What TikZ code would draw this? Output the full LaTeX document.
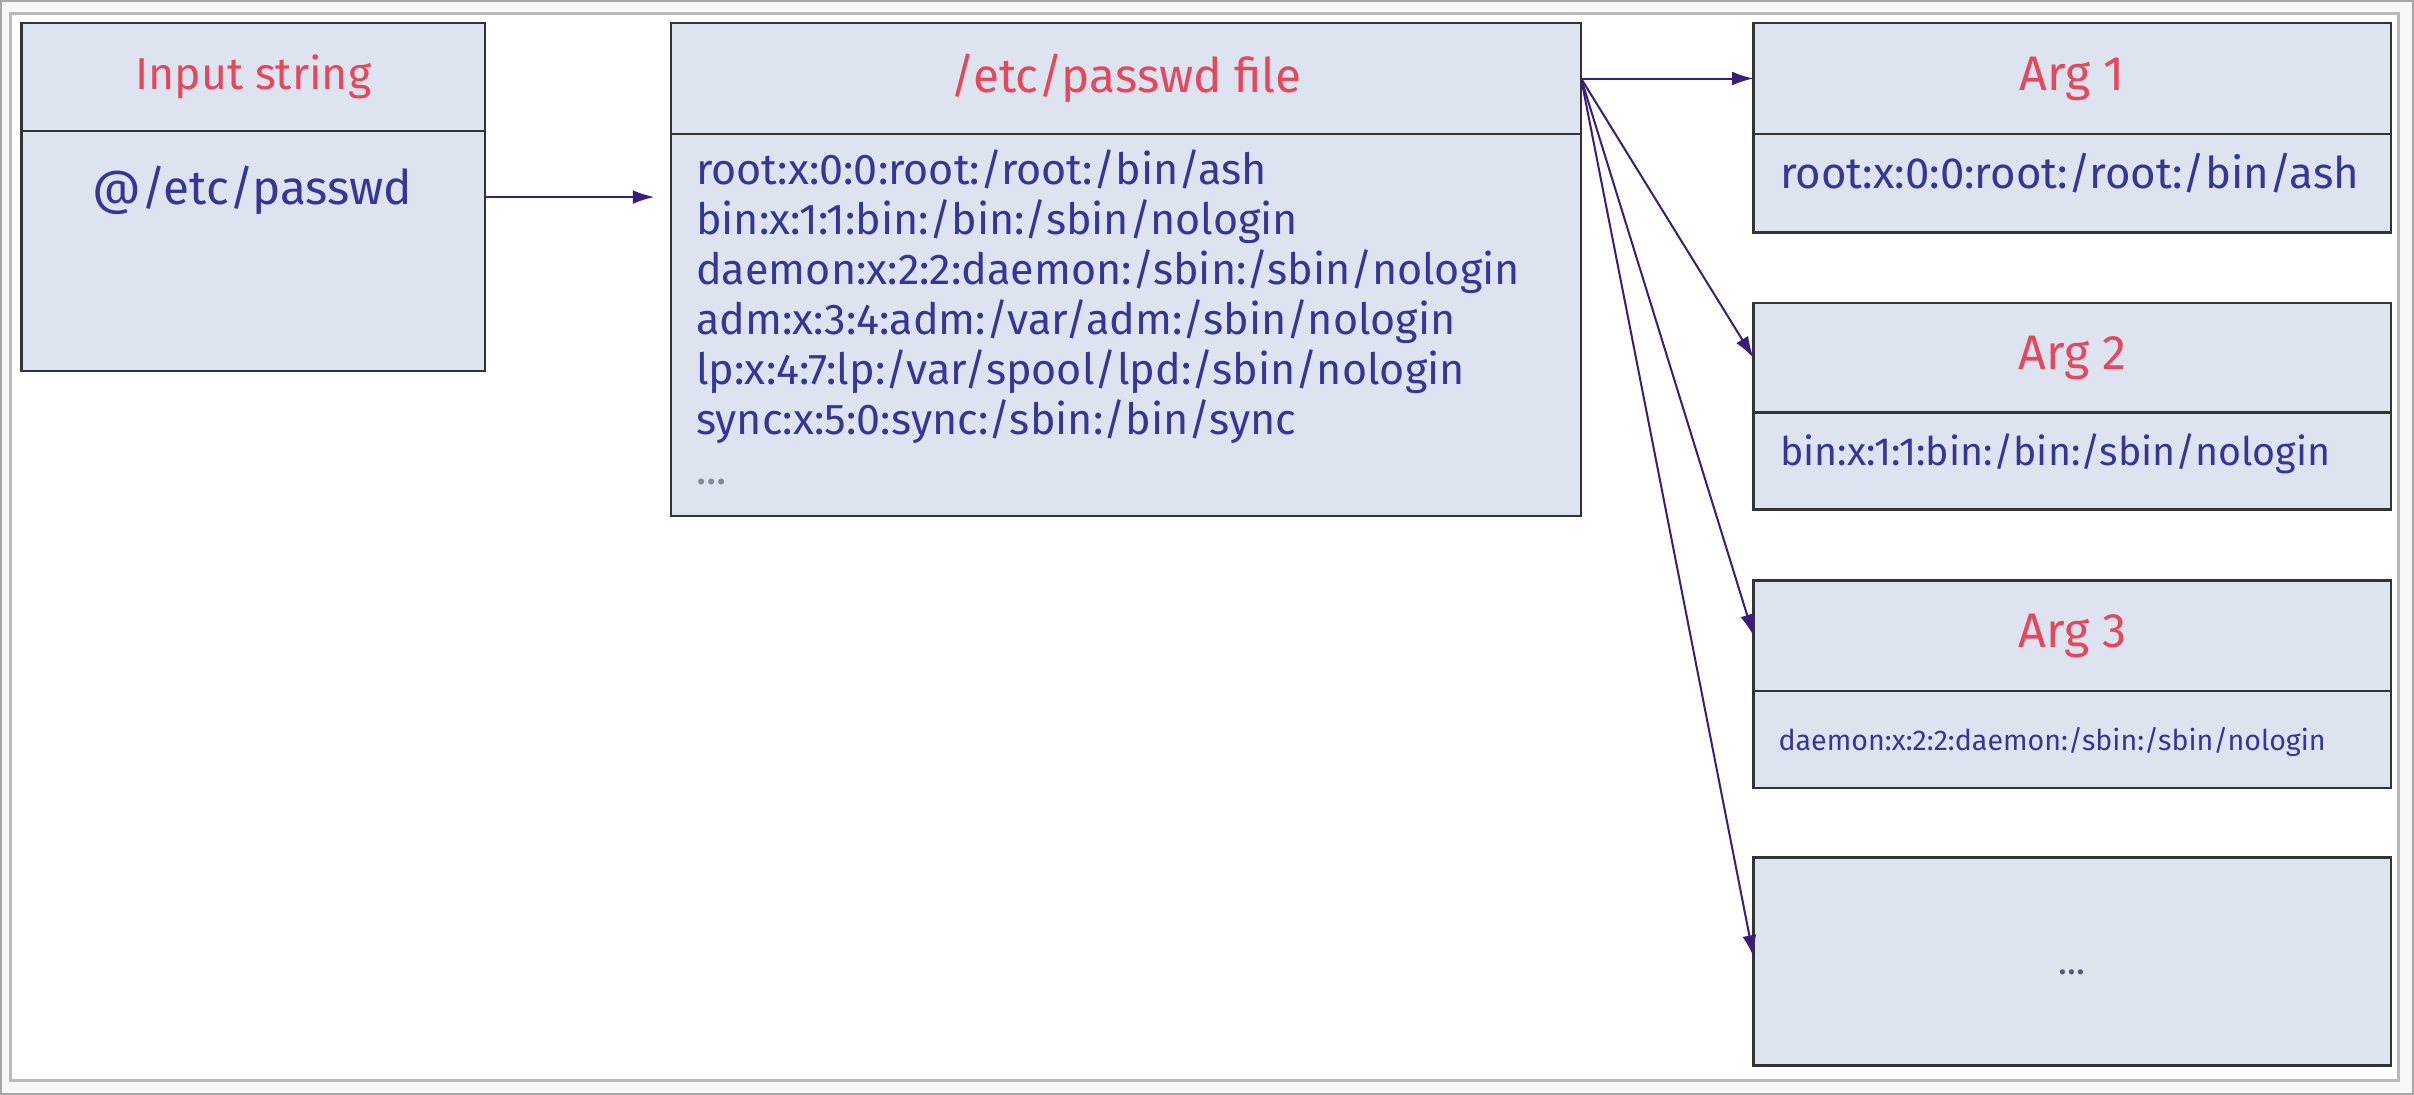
\documentclass[tikz,border=0pt]{standalone}
\usepackage{fontspec}
\setmainfont{Fira Sans}[Scale=1]
\usetikzlibrary{arrows.meta}
\definecolor{boxfill}{HTML}{DEE4EF}
\definecolor{boxline}{HTML}{333333}
\definecolor{titlered}{HTML}{E5485E}
\definecolor{bodyblue}{HTML}{363696}
\definecolor{arrowc}{HTML}{3A1C7A}
\definecolor{dotsgray}{HTML}{55556E}
\begin{document}
\begin{tikzpicture}[x=1pt,y=-1pt,
  cell/.style={draw=boxline,fill=boxfill,line width=1.5pt,anchor=north west,inner sep=0pt,outer sep=0pt},
  titletext/.style={text=titlered,font=\fontsize{29}{34}\selectfont,inner sep=0pt},
  argtitle/.style={titletext,font=\fontsize{31.5}{36}\selectfont},
  bodytext/.style={text=bodyblue,font=\fontsize{28.4}{32.5}\selectfont,inner sep=0pt},
  arr/.style={draw=arrowc,line width=1.3pt,-{Latex[length=14pt,width=9pt]}}]
\useasboundingbox (0,0) rectangle (1568,711);
\fill[gray!6] (0,0) rectangle (1568,711);
\draw[gray!70,line width=1pt] (0.5,0.5) rectangle (1567.5,710.5);
\draw[fill=white,draw=gray!55,line width=2pt] (7,9) rectangle (1558,702);
% input box
\node[cell,minimum width=301pt,minimum height=70pt] (intitle) at (14,15) {};
\node[cell,minimum width=301pt,minimum height=156pt] (inbody) at (14,85) {};
\node[titletext] (intitletxt) at (intitle.center) {Input string};
\node[bodytext,font=\fontsize{31}{36}\selectfont,anchor=mid] (intxt) at (164,130) {@/etc/passwd};
% passwd box
\node[cell,minimum width=591pt,minimum height=72pt] (ptitle) at (436,15) {};
\node[cell,minimum width=591pt,minimum height=248pt] (pbody) at (436,87) {};
\node[titletext,font=\fontsize{31}{36}\selectfont] (ptitletxt) at (ptitle.center) {/etc/passwd file};
\node[bodytext,font=\fontsize{28}{32.5}\selectfont,align=left,anchor=base west] (plines) at (452,315) {root:x:0:0:root:/root:/bin/ash\\
bin:x:1:1:bin:/bin:/sbin/nologin\\
daemon:x:2:2:daemon:/sbin:/sbin/nologin\\
adm:x:3:4:adm:/var/adm:/sbin/nologin\\
lp:x:4:7:lp:/var/spool/lpd:/sbin/nologin\\
sync:x:5:0:sync:/sbin:/bin/sync\\
\textcolor{dotsgray!70}{...}};
% arg boxes
\node[cell,minimum width=414pt,minimum height=72pt] (a1title) at (1139,15) {};
\node[cell,minimum width=414pt,minimum height=64pt] (a1body) at (1139,87) {};
\node[argtitle] (a1titletxt) at (a1title.center) {Arg 1};
\node[bodytext,anchor=mid west] (a1txt) at (1156,120) {root:x:0:0:root:/root:/bin/ash};
\node[cell,minimum width=414pt,minimum height=71pt] (a2title) at (1139,197) {};
\node[cell,minimum width=414pt,minimum height=63pt] (a2body) at (1139,268) {};
\node[argtitle] (a2titletxt) at (a2title.center) {Arg 2};
\node[bodytext,font=\fontsize{25.6}{30}\selectfont,anchor=mid west] (a2txt) at (1156,300) {bin:x:1:1:bin:/bin:/sbin/nologin};
\node[cell,minimum width=414pt,minimum height=72pt] (a3title) at (1139,377) {};
\node[cell,minimum width=414pt,minimum height=63pt] (a3body) at (1139,449) {};
\node[argtitle] (a3titletxt) at (a3title.center) {Arg 3};
\node[bodytext,font=\fontsize{18.6}{22}\selectfont,anchor=mid west] (a3txt) at (1155,485) {daemon:x:2:2:daemon:/sbin:/sbin/nologin};
\node[cell,minimum width=414pt,minimum height=135pt] (a4) at (1139,557) {};
\node[text=dotsgray,font=\fontsize{24}{28}\selectfont,inner sep=0pt] (a4txt) at ([yshift=-7pt]a4.center) {...};
% arrows
\coordinate (pin) at (425,128);
\draw[arr] (inbody.east |- pin) -- (pin);
\draw[arr] (ptitle.east) -- (a1title.west);
\draw[arr] (ptitle.east) -- (a2title.west);
\draw[arr] (ptitle.east) -- (a3title.west);
\draw[arr] (ptitle.east) -- ([yshift=3pt]a4.west);
\end{tikzpicture}
\end{document}
